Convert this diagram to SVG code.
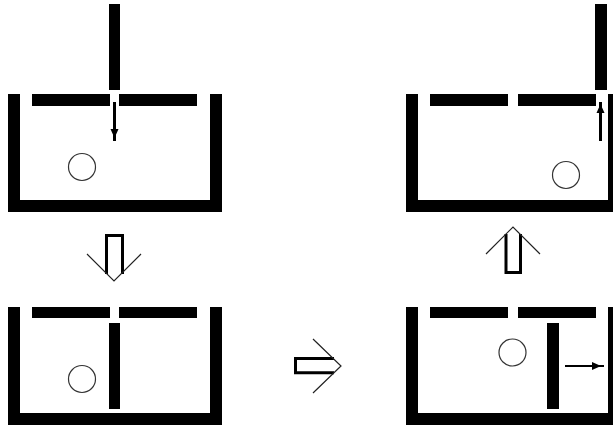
<svg xmlns="http://www.w3.org/2000/svg" width="613" height="426" viewBox="0 0 613 426">
<defs>
<style>
.s{fill:#000}
.c{fill:#fff;stroke:#333;stroke-width:1.2}
.l{stroke:#000;stroke-width:3;fill:none}
.h{fill:#000}
.b{fill:none;stroke:#000;stroke-width:3;stroke-linejoin:miter}
.v{fill:none;stroke:#222;stroke-width:1.2}
</style>
</defs>
<rect width="613" height="426" fill="#fff"/>
<g id="state-top-left">
<rect class="s" x="8" y="94" width="12" height="118"/>
<rect class="s" x="210" y="94" width="12" height="118"/>
<rect class="s" x="8" y="200" width="214" height="12"/>
<rect class="s" x="32" y="94" width="78" height="12"/>
<rect class="s" x="119" y="94" width="78" height="12"/>
<rect class="s" x="109" y="4" width="11" height="86"/>
<circle class="c" cx="82" cy="167" r="13.5"/>
<line class="l" x1="114.500" y1="102" x2="114.500" y2="141"/>
<polygon class="h" points="110.500,129 118.500,129 114.500,138"/>
</g>
<g id="state-top-right">
<rect class="s" x="406" y="94" width="12" height="118"/>
<rect class="s" x="608" y="94" width="12" height="118"/>
<rect class="s" x="406" y="200" width="214" height="12"/>
<rect class="s" x="430" y="94" width="78" height="12"/>
<rect class="s" x="518" y="94" width="78" height="12"/>
<rect class="s" x="595" y="4" width="12" height="86"/>
<circle class="c" cx="566" cy="175" r="13.5"/>
<line class="l" x1="600.500" y1="102" x2="600.500" y2="141"/>
<polygon class="h" points="596.500,113 604.500,113 600.500,104"/>
</g>
<g id="state-bottom-left">
<rect class="s" x="8" y="307" width="12" height="118"/>
<rect class="s" x="210" y="307" width="12" height="118"/>
<rect class="s" x="8" y="413" width="214" height="12"/>
<rect class="s" x="32" y="307" width="78" height="11"/>
<rect class="s" x="119" y="307" width="78" height="11"/>
<rect class="s" x="109" y="323" width="11" height="86"/>
<circle class="c" cx="82" cy="379" r="13.5"/>
</g>
<g id="state-bottom-right">
<rect class="s" x="406" y="307" width="12" height="118"/>
<rect class="s" x="608" y="307" width="12" height="118"/>
<rect class="s" x="406" y="413" width="214" height="12"/>
<rect class="s" x="430" y="307" width="78" height="11"/>
<rect class="s" x="518" y="307" width="78" height="11"/>
<rect class="s" x="547" y="323" width="12" height="86"/>
<circle class="c" cx="512.500" cy="352.500" r="13.5"/>
<line class="l" style="stroke-width:2" x1="565" y1="366" x2="604" y2="366"/>
<polygon class="h" points="592,362 592,370 601,366"/>
</g>
<g id="connectors">
<g id="arrow-down">
<path class="b" d="M106.500 274V235.500H122.500V274"/>
<path class="v" d="M87 254L114 281L141 254"/>
</g>
<g id="arrow-right">
<path class="b" d="M334 358.500H295.500V372.800H334"/>
<path class="v" d="M313 339L341 366L313 393"/>
</g>
<g id="arrow-up">
<path class="b" d="M506 234V272.500H520.500V234"/>
<path class="v" d="M486 254L513 227L540 254"/>
</g>
</g>
</svg>
